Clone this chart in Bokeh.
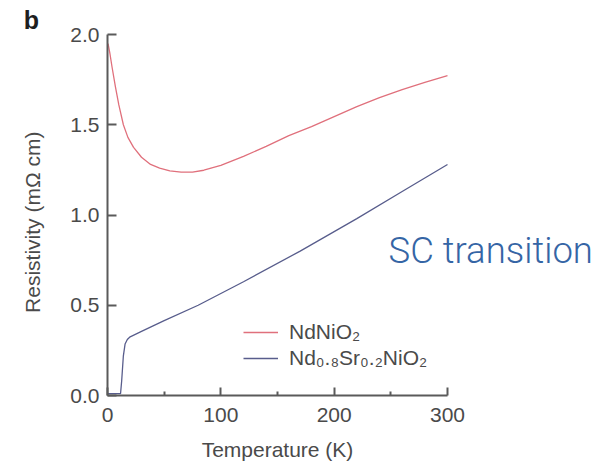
import math
from bokeh.plotting import figure
from bokeh.models import (Range1d, FixedTicker, PrintfTickFormatter, Label,
                          Legend, LegendItem)
from bokeh.embed import file_html
from bokeh.resources import INLINE

# ---------------- data ----------------
temp_ndnio2 = [0.5, 2, 4, 7, 10, 14, 18, 23, 30, 38, 46, 55, 65, 75, 85,
               100, 120, 140, 160, 180, 200, 220, 240, 260, 280, 300]
res_ndnio2 = [1.95, 1.90, 1.82, 1.71, 1.61, 1.50, 1.43, 1.375, 1.32, 1.28,
              1.26, 1.245, 1.237, 1.238, 1.248, 1.275, 1.325, 1.38, 1.44,
              1.49, 1.545, 1.60, 1.65, 1.695, 1.735, 1.772]

temp_ndsr = [0, 11.5, 12.5, 14, 15.5, 17.5, 20, 30, 50, 80, 120, 170, 220,
             260, 300]
res_ndsr = [0.01, 0.01, 0.08, 0.22, 0.285, 0.31, 0.325, 0.355, 0.415, 0.50,
            0.63, 0.80, 0.98, 1.13, 1.28]

x_ticks = [0, 100, 200, 300]
x_minor_ticks = [50, 150, 250]
y_ticks = [0.0, 0.5, 1.0, 1.5, 2.0]

label_ndnio2 = "NdNiO\u2082"
label_ndsr = "Nd\u2080.\u2088Sr\u2080.\u2082NiO\u2082"

# ---------------- figure ----------------
FONT = "Liberation Sans"
TXT = "#4a4a4a"
AX = "#5a5a5a"

W, H = 611, 467
# axis box in canvas pixels: T=0 at 107, T=300 at 447; R=2 at 34, R=0 at 395
px_per_T = 340 / 300
px_per_R = 361 / 2.0
x0 = -107 / px_per_T
x1 = 300 + (W - 447) / px_per_T
y1 = 2.0 + 34 / px_per_R
y0 = -(H - 395) / px_per_R

p = figure(width=W, height=H, output_backend="svg", toolbar_location=None,
           x_range=Range1d(x0, x1), y_range=Range1d(y0, y1), min_border=0)
p.outline_line_color = None
p.xgrid.visible = False
p.ygrid.visible = False
p.background_fill_color = "white"
p.border_fill_color = "white"

r1 = p.line(temp_ndnio2, res_ndnio2, line_color="#e0707c", line_width=1.3)
r2 = p.line(temp_ndsr, res_ndsr, line_color="#585d8c", line_width=1.3)

# axes, fixed at the data origin
xa = p.xaxis[0]
xa.ticker = FixedTicker(ticks=x_ticks, minor_ticks=x_minor_ticks)
xa.fixed_location = 0
xa.bounds = (0, 300)
ya = p.yaxis[0]
ya.ticker = FixedTicker(ticks=y_ticks, minor_ticks=[])
ya.formatter = PrintfTickFormatter(format="%.1f")
ya.fixed_location = 0
ya.bounds = (0, 2.0)
for ax in (xa, ya):
    ax.axis_line_color = AX
    ax.axis_line_width = 2
    ax.major_tick_line_color = AX
    ax.major_tick_line_width = 2
    ax.minor_tick_line_color = AX
    ax.minor_tick_line_width = 2
    ax.major_tick_out = 0
    ax.minor_tick_out = 0
    ax.major_label_text_font = FONT
    ax.major_label_text_font_size = "21px"
    ax.major_label_text_color = TXT
xa.major_tick_in = 8
xa.minor_tick_in = 4
xa.major_label_standoff = 12
ya.major_tick_in = 9
ya.minor_tick_in = 0
ya.major_label_standoff = 8

# axis titles
p.add_layout(Label(x=150, y=-0.30, text="Temperature (K)", text_font=FONT,
                   text_font_size="21px", text_color=TXT, text_align="center",
                   text_baseline="middle"))
p.add_layout(Label(x=-66.6, y=0.96, text="Resistivity (m\u03a9 cm)",
                   text_font=FONT, text_font_size="21px", text_color=TXT,
                   text_align="center", text_baseline="middle",
                   angle=math.pi / 2))

# panel letter
p.add_layout(Label(x=-74, y=2.08, text="b", text_font=FONT,
                   text_font_size="25px", text_font_style="bold",
                   text_color="#1e1e1e", text_align="left",
                   text_baseline="alphabetic"))

# annotation
p.add_layout(Label(x=248, y=0.806, text="SC transition",
                   text_font="Roboto Light", text_font_size="36.5px",
                   text_color="#3565a5", text_align="left",
                   text_baseline="alphabetic"))

# legend
legend = Legend(items=[LegendItem(label=label_ndnio2, renderers=[r1]),
                       LegendItem(label=label_ndsr, renderers=[r2])],
                location=(243, 96), orientation="vertical",
                padding=0, margin=0, spacing=0, border_line_color=None,
                background_fill_alpha=0, glyph_width=35, glyph_height=26,
                label_height=26, label_standoff=11,
                label_text_font=FONT, label_text_font_size="21px",
                label_text_color=TXT)
p.add_layout(legend)

open("out.html", "w").write(file_html(p, INLINE))
